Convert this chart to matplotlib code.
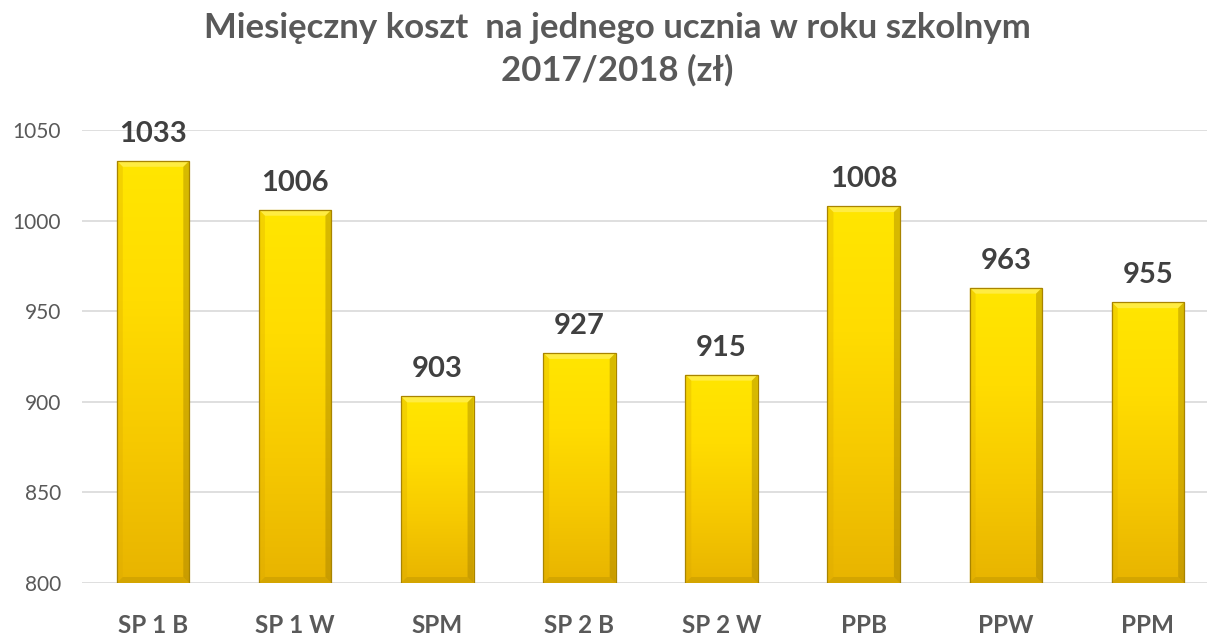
import matplotlib
matplotlib.use("Agg")
import matplotlib.pyplot as plt
import numpy as np
from matplotlib.colors import LinearSegmentedColormap
from matplotlib.patches import Polygon

categories = ["SP 1 B", "SP 1 W", "SPM", "SP 2 B", "SP 2 W", "PPB", "PPW", "PPM"]
values = [1033, 1006, 903, 927, 915, 1008, 963, 955]
yticks = [800, 850, 900, 950, 1000, 1050]
title = "Miesięczny koszt  na jednego ucznia w roku szkolnym\n2017/2018 (zł)"

plt.rcParams['font.family'] = ['Lato', 'DejaVu Sans']

W, H = 1207, 637
fig = plt.figure(figsize=(W / 100, H / 100), dpi=100)
left, right = 82, 1219
top, bottom = 130, 583
ax = fig.add_axes([left / W, 1 - bottom / H, (right - left) / W, (bottom - top) / H])
xmin, xmax, ymin, ymax = -0.5, len(categories) - 0.5, 800, 1050
ax.set_xlim(xmin, xmax)
ax.set_ylim(ymin, ymax)
ax.set_yticks(yticks)
ax.set_xticks(range(len(categories)))
ax.set_xticklabels(categories, fontsize=17.5, fontweight='bold', color='#595959')
ax.tick_params(axis='y', labelsize=15, colors='#595959', length=0, pad=15)
ax.tick_params(axis='x', length=0, pad=22.5)
for s in ax.spines.values():
    s.set_visible(False)
ax.grid(axis='y', color='#d9d9d9', linewidth=1.2)
ax.set_axisbelow(True)

cmap = LinearSegmentedColormap.from_list('gold', ['#e8b400', '#f6c900', '#ffdc00', '#ffe600'])
grad = np.linspace(0, 1, 256).reshape(-1, 1)
bw = 0.51
px_x = (xmax - xmin) / (right - left)
px_y = (ymax - ymin) / (bottom - top)
bev = 6
bars = ax.bar(range(len(categories)), values, width=bw, bottom=0, color='none',
              edgecolor='#a88400', linewidth=0.9, zorder=4)
for i, (b, v) in enumerate(zip(bars, values)):
    im = ax.imshow(grad, cmap=cmap, origin='lower', aspect='auto',
                   extent=[i - bw / 2, i + bw / 2, ymin, v], zorder=2)
    im.set_clip_path(b)
    x0, x1 = i - bw / 2, i + bw / 2
    y0, y1 = ymin, v
    dx, dy = bev * px_x, bev * px_y
    ax.add_patch(Polygon([(x0, y1), (x1, y1), (x1 - dx, y1 - dy), (x0 + dx, y1 - dy)],
                         closed=True, facecolor='#fff27a', edgecolor='none', alpha=0.55, zorder=3))
    ax.add_patch(Polygon([(x0, y1), (x0 + dx, y1 - dy), (x0 + dx, y0 + dy), (x0, y0)],
                         closed=True, facecolor='#d9a800', edgecolor='none', alpha=0.3, zorder=3))
    ax.add_patch(Polygon([(x1, y1), (x1 - dx, y1 - dy), (x1 - dx, y0 + dy), (x1, y0)],
                         closed=True, facecolor='#9c7a00', edgecolor='none', alpha=0.4, zorder=3))
    ax.add_patch(Polygon([(x0, y0), (x0 + dx, y0 + dy), (x1 - dx, y0 + dy), (x1, y0)],
                         closed=True, facecolor='#9c7a00', edgecolor='none', alpha=0.25, zorder=3))
    ax.text(i, v + 19 * px_y, str(v), ha='center', va='baseline', fontsize=21,
            fontweight='bold', color='#404040')
ax.set_xlim(xmin, xmax)
ax.set_ylim(ymin, ymax)

fig.text(617 / W, 1 - 38 / H, "Miesięczny koszt  na jednego ucznia w roku szkolnym",
         ha='center', va='baseline', fontsize=25, fontweight='bold', color='#595959')
fig.text(617 / W, 1 - 81 / H, "2017/2018 (zł)",
         ha='center', va='baseline', fontsize=25, fontweight='bold', color='#595959')

fig.savefig("out.png", dpi=100)
